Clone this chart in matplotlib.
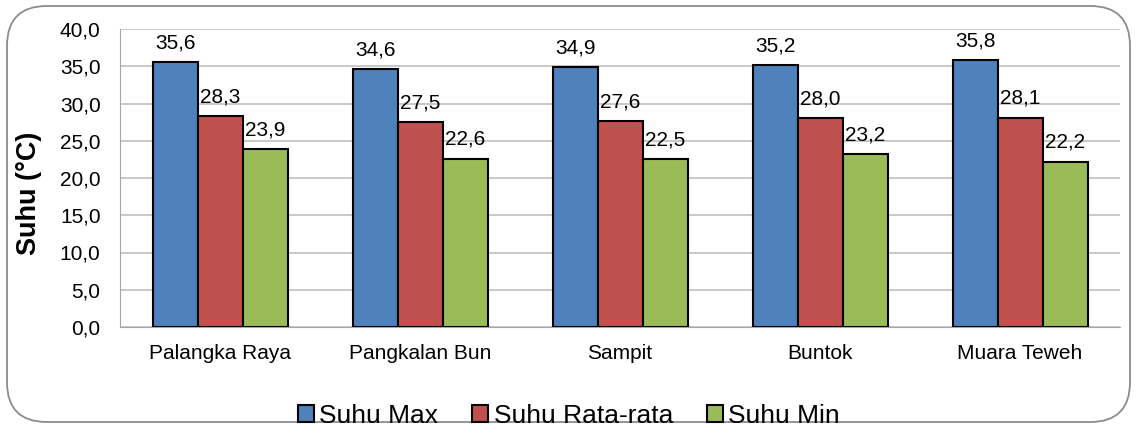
import matplotlib.pyplot as plt
import numpy as np
from matplotlib.patches import FancyBboxPatch

plt.rcParams['font.family'] = ['Liberation Sans', 'DejaVu Sans']

kota = ["Palangka Raya", "Pangkalan Bun", "Sampit", "Buntok", "Muara Teweh"]
suhu_max = [35.6, 34.6, 34.9, 35.2, 35.8]
suhu_rata = [28.3, 27.5, 27.6, 28.0, 28.1]
suhu_min = [23.9, 22.6, 22.5, 23.2, 22.2]
seri = ["Suhu Max", "Suhu Rata-rata", "Suhu Min"]
warna = ["#4F81BD", "#C0504D", "#9BBB59"]


def fmt(v):
    return f"{v:.1f}".replace(".", ",")


fig = plt.figure(figsize=(11.38, 4.30), dpi=100)
ax = fig.add_axes([120 / 1138, 1 - 327 / 430, 1000 / 1138, 298 / 430])

# rounded frame round the whole chart
frame = FancyBboxPatch((7 / 1138, 8 / 430), 1123 / 1138, 416 / 430,
                       boxstyle="round,pad=0,rounding_size=0.035",
                       transform=fig.transFigure, facecolor="white",
                       edgecolor="#8C8C8C", linewidth=1.3, zorder=-10,
                       mutation_aspect=1138 / 430)
fig.patches.append(frame)

x = np.arange(len(kota))
w = 0.225
for i, (nilai, nama) in enumerate(zip([suhu_max, suhu_rata, suhu_min], seri)):
    pos = x + (i - 1) * w
    bars = ax.bar(pos, nilai, w, color=warna[i], edgecolor="black",
                  linewidth=1.5, label=nama, zorder=3)
    for b, v in zip(bars, nilai):
        ax.annotate(fmt(v), (b.get_x() + b.get_width() / 2, v),
                    xytext=(0, 7), textcoords="offset points",
                    ha="center", va="bottom", fontsize=15, zorder=4)

ax.set_xlim(-0.5, 4.5)
ax.set_ylim(0, 40)
ax.set_yticks(np.arange(0, 41, 5))
ax.set_yticklabels([fmt(t) for t in np.arange(0, 41, 5)], fontsize=15)
ax.set_xticks(x)
ax.set_xticklabels(kota, fontsize=15)
ax.tick_params(axis="x", length=0, pad=12)
ax.tick_params(axis="y", length=0, pad=14)
ax.grid(axis="y", color="#BFBFBF", linewidth=1.2, zorder=0)
for s in ["top", "right"]:
    ax.spines[s].set_visible(False)
ax.spines["left"].set_color("#A6A6A6")
ax.spines["bottom"].set_color("#A6A6A6")
ax.set_ylabel("Suhu (°C)", fontsize=19.5, fontweight="bold")
ax.yaxis.set_label_coords(-0.078, 0.45)

fig.legend(loc="center", bbox_to_anchor=(0.5, 1 - 416 / 430), ncol=3,
           frameon=False, fontsize=19, handlelength=0.6, handleheight=0.6,
           handletextpad=0.2, columnspacing=1.3, borderpad=0)

fig.savefig("out.png", dpi=100)
